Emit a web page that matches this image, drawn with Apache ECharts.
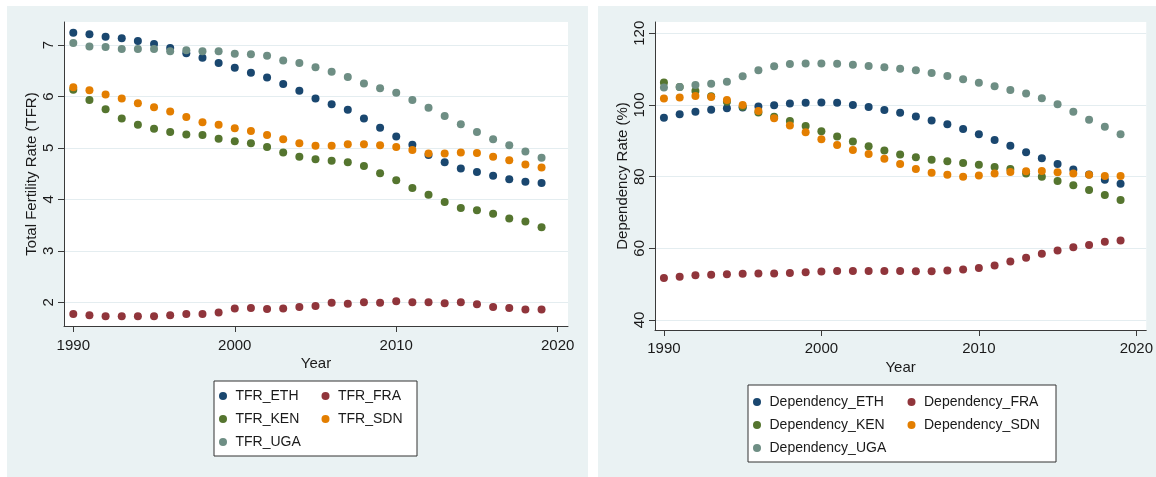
<!DOCTYPE html>
<html lang="en">
<head>
    <meta charset="UTF-8">
    <title>TFR and Dependency Rate</title>
    <script src="https://cdn.jsdelivr.net/npm/echarts@6/dist/echarts.min.js"></script>
    <style>
        body {
            margin: 0;
            width: 1156px;
            height: 477px;
            background: #ffffff;
            position: relative;
            overflow: hidden;
        }
        .panel {
            position: absolute;
            top: 6px;
            height: 471px;
            background: #eaf2f3;
        }
        #tfrChart { left: 7px; width: 581px; }
        #depChart { left: 598px; width: 558px; }
    </style>
</head>
<body>
<div id="tfrChart" class="panel"></div>
<div id="depChart" class="panel"></div>

<script>
    const years = [1990, 1991, 1992, 1993, 1994, 1995, 1996, 1997, 1998, 1999,
                   2000, 2001, 2002, 2003, 2004, 2005, 2006, 2007, 2008, 2009,
                   2010, 2011, 2012, 2013, 2014, 2015, 2016, 2017, 2018, 2019];
    const xTicks = [1990, 2000, 2010, 2020];

    // total fertility rate
    const tfrEth = [7.24, 7.21, 7.16, 7.13, 7.08, 7.02, 6.94, 6.84, 6.75, 6.65,
                    6.56, 6.46, 6.37, 6.24, 6.11, 5.96, 5.85, 5.74, 5.57, 5.39,
                    5.22, 5.06, 4.86, 4.72, 4.60, 4.53, 4.46, 4.39, 4.34, 4.32];
    const tfrFra = [1.77, 1.75, 1.73, 1.73, 1.73, 1.73, 1.75, 1.77, 1.77, 1.80,
                    1.88, 1.89, 1.87, 1.88, 1.91, 1.93, 1.99, 1.97, 2.00, 1.99,
                    2.02, 2.00, 2.00, 1.98, 2.00, 1.96, 1.91, 1.89, 1.86, 1.86];
    const tfrKen = [6.13, 5.93, 5.75, 5.57, 5.45, 5.37, 5.31, 5.26, 5.25, 5.18,
                    5.13, 5.09, 5.02, 4.91, 4.83, 4.78, 4.75, 4.72, 4.65, 4.51,
                    4.37, 4.22, 4.09, 3.95, 3.83, 3.79, 3.72, 3.63, 3.57, 3.46];
    const tfrSdn = [6.18, 6.12, 6.04, 5.96, 5.87, 5.79, 5.71, 5.60, 5.50, 5.45,
                    5.38, 5.33, 5.25, 5.17, 5.09, 5.04, 5.04, 5.07, 5.07, 5.05,
                    5.02, 4.96, 4.89, 4.89, 4.91, 4.90, 4.83, 4.76, 4.68, 4.62];
    const tfrUga = [7.04, 6.97, 6.96, 6.92, 6.92, 6.92, 6.88, 6.90, 6.88, 6.88,
                    6.83, 6.82, 6.79, 6.70, 6.65, 6.57, 6.48, 6.38, 6.25, 6.16,
                    6.07, 5.93, 5.78, 5.62, 5.46, 5.31, 5.17, 5.05, 4.93, 4.81];
    const tfrTicks = [2, 3, 4, 5, 6, 7];

    // dependency rate (%)
    const depEth = [96.4, 97.4, 98.1, 98.7, 99.1, 99.3, 99.6, 99.9, 100.4, 100.6,
                    100.7, 100.6, 100.0, 99.4, 98.6, 97.8, 96.8, 95.7, 94.6, 93.3,
                    91.8, 90.2, 88.6, 86.8, 85.1, 83.5, 82.0, 80.6, 79.1, 78.0];
    const depFra = [51.7, 52.1, 52.5, 52.6, 52.8, 52.9, 53.0, 53.0, 53.1, 53.3,
                    53.5, 53.7, 53.7, 53.7, 53.7, 53.7, 53.6, 53.6, 53.8, 54.1,
                    54.5, 55.2, 56.3, 57.4, 58.5, 59.4, 60.3, 60.9, 61.8, 62.2];
    const depKen = [106.3, 105.0, 103.9, 102.4, 100.9, 99.5, 97.9, 96.7, 95.5, 94.1,
                    92.7, 91.2, 89.8, 88.5, 87.3, 86.2, 85.4, 84.7, 84.3, 83.8,
                    83.3, 82.7, 82.1, 80.9, 80.0, 78.8, 77.6, 76.3, 74.9, 73.5];
    const depSdn = [101.8, 102.1, 102.5, 102.2, 101.4, 100.0, 98.3, 96.3, 94.3, 92.4,
                    90.4, 88.8, 87.4, 86.3, 85.0, 83.5, 82.1, 81.1, 80.5, 80.0,
                    80.3, 80.9, 81.3, 81.5, 81.6, 81.2, 80.9, 80.5, 80.2, 80.2];
    const depUga = [104.9, 105.0, 105.6, 105.9, 106.5, 108.0, 109.7, 110.8, 111.4, 111.6,
                    111.6, 111.5, 111.2, 110.9, 110.5, 110.1, 109.7, 108.9, 108.1, 107.2,
                    106.2, 105.2, 104.2, 103.2, 101.9, 100.2, 98.1, 95.9, 93.9, 91.8];
    const depTicks = [40, 60, 80, 100, 120];

    const countries = ['ETH', 'FRA', 'KEN', 'SDN', 'UGA'];
    const colors = ['#1a476f', '#90353b', '#55752f', '#e37e00', '#6e8e84'];

    const font = 'Arial, "Liberation Sans", sans-serif';
    const axisColor = '#3a3a3a';
    const gridColor = '#e4edf0';

    function pairs(values) {
        return values.map((v, i) => [years[i], v]);
    }

    function makeOption(cfg) {
        const names = countries.map(c => cfg.prefix + c);
        // row order ETH FRA / KEN SDN / UGA, first column wider
        const legendData = names.map((n, i) => ({
            name: n,
            textStyle: { width: i % 2 === 0 ? cfg.col1Width : cfg.col2Width }
        }));
        return {
            animation: false,
            color: colors,
            grid: {
                left: 57, top: 16, width: cfg.gridWidth, height: cfg.gridHeight,
                show: true, backgroundColor: '#ffffff', borderWidth: 0
            },
            xAxis: {
                type: 'value',
                min: cfg.xMin, max: cfg.xMax,
                name: 'Year',
                nameLocation: 'middle',
                nameGap: cfg.xNameGap,
                nameMoveOverlap: false,
                nameTextStyle: { fontFamily: font, fontSize: 15, color: '#1a1a1a' },
                axisLine: { show: true, lineStyle: { color: axisColor, width: 1 } },
                axisTick: { show: true, length: 6, customValues: xTicks, lineStyle: { color: axisColor } },
                axisLabel: {
                    customValues: xTicks, margin: cfg.xLabelMargin,
                    formatter: v => String(v),
                    fontFamily: font, fontSize: 15, color: '#1a1a1a'
                },
                splitLine: { show: false }
            },
            yAxis: {
                type: 'value',
                min: cfg.yMin, max: cfg.yMax,
                name: cfg.yName,
                nameLocation: 'middle',
                nameGap: cfg.yNameGap,
                nameMoveOverlap: false,
                nameTextStyle: { fontFamily: font, fontSize: 15, color: '#1a1a1a' },
                axisLine: { show: true, lineStyle: { color: axisColor, width: 1 } },
                axisTick: { show: true, length: 6, customValues: cfg.yTicks, lineStyle: { color: axisColor } },
                axisLabel: {
                    customValues: cfg.yTicks, rotate: 90, margin: 8,
                    formatter: v => String(v),
                    fontFamily: font, fontSize: 15, color: '#1a1a1a'
                },
                splitLine: { show: true, lineStyle: { color: gridColor, width: 1 } }
            },
            legend: {
                left: cfg.legendLeft, top: cfg.legendTop,
                width: cfg.legendWidth,
                orient: 'horizontal',
                data: legendData,
                icon: 'circle',
                itemWidth: 15, itemHeight: 8, itemGap: 9,
                padding: cfg.legendPadding,
                backgroundColor: '#ffffff',
                borderColor: '#333333', borderWidth: 1, borderRadius: 0,
                textStyle: { fontFamily: font, fontSize: 14, lineHeight: 14, color: '#1a1a1a' },
                selectedMode: false
            },
            series: cfg.data.map((vals, i) => ({
                name: names[i],
                type: 'scatter',
                symbol: 'circle',
                symbolSize: 8,
                data: pairs(vals),
                itemStyle: { color: colors[i], opacity: 1 }
            }))
        };
    }

    const tfrChart = echarts.init(document.getElementById('tfrChart'));
    tfrChart.setOption(makeOption({
        prefix: 'TFR_',
        data: [tfrEth, tfrFra, tfrKen, tfrSdn, tfrUga],
        gridWidth: 504, gridHeight: 304,
        xMin: 1989.424, xMax: 2020.638,
        yMin: 1.539, yMax: 7.447,
        yTicks: tfrTicks,
        yName: 'Total Fertility Rate (TFR)',
        yNameGap: 25, xNameGap: 30, xLabelMargin: 12,
        legendLeft: 207, legendTop: 375,
        legendWidth: 200,
        col1Width: 77, col2Width: 70,
        legendPadding: [8, 9, 7, 5]
    }));

    const depChart = echarts.init(document.getElementById('depChart'));
    depChart.setOption(makeOption({
        prefix: 'Dependency_',
        data: [depEth, depFra, depKen, depSdn, depUga],
        gridWidth: 495, gridHeight: 308,
        xMin: 1989.433, xMax: 2020.63,
        yMin: 37.21, yMax: 123.15,
        yTicks: depTicks,
        yName: 'Dependency Rate (%)',
        yNameGap: 25, xNameGap: 30, xLabelMargin: 11,
        legendLeft: 150, legendTop: 379,
        legendWidth: 300,
        col1Width: 129, col2Width: 122,
        legendPadding: [10, 10, 7, 5]
    }));
</script>
</body>
</html>
